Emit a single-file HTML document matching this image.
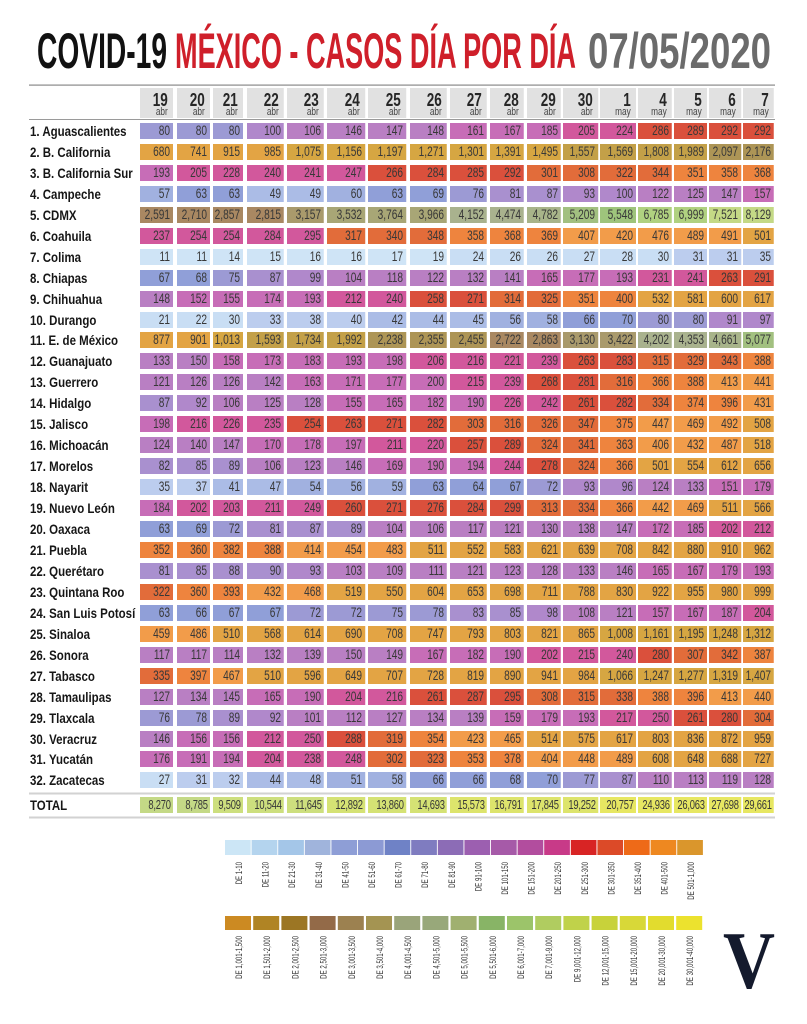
<!DOCTYPE html>
<html><head><meta charset="utf-8">
<style>
*{margin:0;padding:0}
body{width:807px;height:1024px;position:relative;overflow:hidden;background:#fff;font-family:"Liberation Sans",sans-serif}
svg.ov{position:absolute;left:0;top:0}
.r{position:absolute;left:0;width:807px;height:16px}
.r span{position:absolute;left:30px;top:0;font-weight:bold;font-size:14px;line-height:16px;color:#161616;transform:scaleX(.82);transform-origin:0 0;white-space:nowrap}
.r b{position:absolute;top:0;height:16px;font-weight:normal;font-size:13.5px;line-height:16px;color:#383838;text-align:right;padding-right:4px;box-sizing:border-box;transform:scaleX(.75);transform-origin:0 0;white-space:nowrap}
.r b:nth-of-type(1){left:140px;width:44px}
.r b:nth-of-type(2){left:177px;width:44px}
.r b:nth-of-type(3){left:213px;width:40px}
.r b:nth-of-type(4){left:247px;width:49.33px}
.r b:nth-of-type(5){left:287px;width:49.33px}
.r b:nth-of-type(6){left:327px;width:50.67px}
.r b:nth-of-type(7){left:368px;width:50.67px}
.r b:nth-of-type(8){left:410px;width:49.33px}
.r b:nth-of-type(9){left:450px;width:49.33px}
.r b:nth-of-type(10){left:490px;width:45.33px}
.r b:nth-of-type(11){left:527px;width:45.33px}
.r b:nth-of-type(12){left:563px;width:46.67px}
.r b:nth-of-type(13){left:600px;width:48px}
.r b:nth-of-type(14){left:638px;width:45.33px}
.r b:nth-of-type(15){left:674px;width:44px}
.r b:nth-of-type(16){left:709px;width:42.67px}
.r b:nth-of-type(17){left:743px;width:41.33px}
.hd b{height:30px;background:#e1e1e1;padding-right:7px}
.hd em{display:block;font-style:normal;font-weight:bold;font-size:18px;line-height:18px;margin-top:3px;color:#262626}
.hd small{display:block;font-size:11px;line-height:11px;margin-top:-2px;color:#444}
.t b{font-size:12.5px;letter-spacing:-0.3px;padding-right:3px}
.b{background:#cfe4f6}.c{background:#c9def4}.d{background:#bccdee}.e{background:#abbce6}
.f{background:#a1b1e0}.g{background:#909fd8}.h{background:#9c9ad4}.i{background:#a990cf}
.j{background:#b088cb}.k{background:#b97fc3}.l{background:#c76db7}.m{background:#d2589c}
.n{background:#da503c}.o{background:#e26c3a}.p{background:#ee843e}.q{background:#f29c4a}
.r b.r{background:#e3a444}.s{background:#d6a642}.t b.t,.s{background:#d6a642}.tt{background:#c3a048}
.u{background:#ad9556}.v{background:#a98862}.w{background:#a99a6c}.x{background:#a8a676}
.y{background:#a9b28e}.z{background:#a8b48a}.A{background:#a2c080}.B{background:#9ec47c}
.C{background:#b0d180}.D{background:#c4d986}.E{background:#cddf7e}.F{background:#d5e274}
.G{background:#dde46c}.H{background:#e7e762}
</style></head><body>
<svg class="ov" width="807" height="1024" viewBox="0 0 807 1024" xmlns="http://www.w3.org/2000/svg">
<g font-family="Liberation Sans, sans-serif" font-weight="bold" font-size="50">
<text x="37" y="68" textLength="130" lengthAdjust="spacingAndGlyphs" fill="#111">COVID-19</text>
<text x="175" y="68" textLength="401" lengthAdjust="spacingAndGlyphs" fill="#cf1f2a">MÉXICO - CASOS DÍA POR DÍA</text>
<text x="588" y="68" textLength="183" lengthAdjust="spacingAndGlyphs" fill="#6b6b6b">07/05/2020</text>
</g>
<rect x="29" y="84.5" width="746" height="1.2" fill="#8a8a8a"/>
<rect x="29" y="119" width="746" height="1" fill="#9a9a9a"/>
<rect x="29" y="792.5" width="746" height="2" fill="#d2d2d2"/>
<rect x="29" y="816.5" width="746" height="2" fill="#d2d2d2"/>
<g>
<rect x="225" y="840" width="25.7" height="15" fill="#cce6f6"/>
<rect x="251.6" y="840" width="25.7" height="15" fill="#b4d4ee"/>
<rect x="278.2" y="840" width="25.7" height="15" fill="#a4c6e8"/>
<rect x="304.8" y="840" width="25.7" height="15" fill="#a0b4dc"/>
<rect x="331.4" y="840" width="25.7" height="15" fill="#8e9ed6"/>
<rect x="358" y="840" width="25.7" height="15" fill="#8c9ad4"/>
<rect x="384.6" y="840" width="25.7" height="15" fill="#6f82c6"/>
<rect x="411.2" y="840" width="25.7" height="15" fill="#7f7cc0"/>
<rect x="437.8" y="840" width="25.7" height="15" fill="#8c6cb6"/>
<rect x="464.4" y="840" width="25.7" height="15" fill="#9c5fb0"/>
<rect x="491" y="840" width="25.7" height="15" fill="#a65aa8"/>
<rect x="517.6" y="840" width="25.7" height="15" fill="#b24d9e"/>
<rect x="544.2" y="840" width="25.7" height="15" fill="#c83a88"/>
<rect x="570.8" y="840" width="25.7" height="15" fill="#d82424"/>
<rect x="597.4" y="840" width="25.7" height="15" fill="#dc4a28"/>
<rect x="624" y="840" width="25.7" height="15" fill="#ee6a18"/>
<rect x="650.6" y="840" width="25.7" height="15" fill="#ee8820"/>
<rect x="677.2" y="840" width="25.7" height="15" fill="#da962c"/>
</g>
<g font-family="Liberation Sans, sans-serif" font-size="9" fill="#333" text-anchor="end">
<text transform="translate(242,862) rotate(-90) scale(.68,1)">DE 1-10</text>
<text transform="translate(268.6,862) rotate(-90) scale(.68,1)">DE 11-20</text>
<text transform="translate(295.2,862) rotate(-90) scale(.68,1)">DE 21-30</text>
<text transform="translate(321.8,862) rotate(-90) scale(.68,1)">DE 31-40</text>
<text transform="translate(348.4,862) rotate(-90) scale(.68,1)">DE 41-50</text>
<text transform="translate(375,862) rotate(-90) scale(.68,1)">DE 51-60</text>
<text transform="translate(401.6,862) rotate(-90) scale(.68,1)">DE 61-70</text>
<text transform="translate(428.2,862) rotate(-90) scale(.68,1)">DE 71-80</text>
<text transform="translate(454.8,862) rotate(-90) scale(.68,1)">DE 81-90</text>
<text transform="translate(481.4,862) rotate(-90) scale(.68,1)">DE 91-100</text>
<text transform="translate(508,862) rotate(-90) scale(.68,1)">DE 101-150</text>
<text transform="translate(534.6,862) rotate(-90) scale(.68,1)">DE 151-200</text>
<text transform="translate(561.2,862) rotate(-90) scale(.68,1)">DE 201-250</text>
<text transform="translate(587.8,862) rotate(-90) scale(.68,1)">DE 251-300</text>
<text transform="translate(614.4,862) rotate(-90) scale(.68,1)">DE 301-350</text>
<text transform="translate(641,862) rotate(-90) scale(.68,1)">DE 351-400</text>
<text transform="translate(667.6,862) rotate(-90) scale(.68,1)">DE 401-500</text>
<text transform="translate(694.2,862) rotate(-90) scale(.68,1)">DE 501-1,000</text>
</g>
<g>
<rect x="225" y="916" width="26" height="14" fill="#cc8a22"/>
<rect x="253.2" y="916" width="26" height="14" fill="#b08424"/>
<rect x="281.4" y="916" width="26" height="14" fill="#9c7624"/>
<rect x="309.6" y="916" width="26" height="14" fill="#936a48"/>
<rect x="337.8" y="916" width="26" height="14" fill="#9c8150"/>
<rect x="366" y="916" width="26" height="14" fill="#a49452"/>
<rect x="394.2" y="916" width="26" height="14" fill="#9aa47a"/>
<rect x="422.4" y="916" width="26" height="14" fill="#98a87a"/>
<rect x="450.6" y="916" width="26" height="14" fill="#a0b070"/>
<rect x="478.8" y="916" width="26" height="14" fill="#88b466"/>
<rect x="507" y="916" width="26" height="14" fill="#9cc46a"/>
<rect x="535.2" y="916" width="26" height="14" fill="#b0cc60"/>
<rect x="563.4" y="916" width="26" height="14" fill="#c0d24a"/>
<rect x="591.6" y="916" width="26" height="14" fill="#c8d23a"/>
<rect x="619.8" y="916" width="26" height="14" fill="#d8d838"/>
<rect x="648" y="916" width="26" height="14" fill="#e2dc2e"/>
<rect x="676.2" y="916" width="26" height="14" fill="#ece22e"/>
</g>
<g font-family="Liberation Sans, sans-serif" font-size="9" fill="#333" text-anchor="end">
<text transform="translate(242,936) rotate(-90) scale(.68,1)">DE 1,001-1,500</text>
<text transform="translate(270.2,936) rotate(-90) scale(.68,1)">DE 1,501-2,000</text>
<text transform="translate(298.4,936) rotate(-90) scale(.68,1)">DE 2,001-2,500</text>
<text transform="translate(326.6,936) rotate(-90) scale(.68,1)">DE 2,501-3,000</text>
<text transform="translate(354.8,936) rotate(-90) scale(.68,1)">DE 3,001-3,500</text>
<text transform="translate(383,936) rotate(-90) scale(.68,1)">DE 3,501-4,000</text>
<text transform="translate(411.2,936) rotate(-90) scale(.68,1)">DE 4,001-4,500</text>
<text transform="translate(439.4,936) rotate(-90) scale(.68,1)">DE 4,501-5,000</text>
<text transform="translate(467.6,936) rotate(-90) scale(.68,1)">DE 5,001-5,500</text>
<text transform="translate(495.8,936) rotate(-90) scale(.68,1)">DE 5,501-6,000</text>
<text transform="translate(524,936) rotate(-90) scale(.68,1)">DE 6,001-7,000</text>
<text transform="translate(552.2,936) rotate(-90) scale(.68,1)">DE 7,001-9,000</text>
<text transform="translate(580.4,936) rotate(-90) scale(.68,1)">DE 9,001-12,000</text>
<text transform="translate(608.6,936) rotate(-90) scale(.68,1)">DE 12,001-15,000</text>
<text transform="translate(636.8,936) rotate(-90) scale(.68,1)">DE 15,001-20,000</text>
<text transform="translate(665,936) rotate(-90) scale(.68,1)">DE 20,001-30,000</text>
<text transform="translate(693.2,936) rotate(-90) scale(.68,1)">DE 30,001-40,000</text>
</g>
<text x="723" y="988" font-family="Liberation Serif, serif" font-weight="bold" font-size="82" textLength="52" lengthAdjust="spacingAndGlyphs" fill="#141a2d">V</text>
</svg>

<div class="r hd" style="top:88px"><b><em>19</em><small>abr</small></b><b><em>20</em><small>abr</small></b><b><em>21</em><small>abr</small></b><b><em>22</em><small>abr</small></b><b><em>23</em><small>abr</small></b><b><em>24</em><small>abr</small></b><b><em>25</em><small>abr</small></b><b><em>26</em><small>abr</small></b><b><em>27</em><small>abr</small></b><b><em>28</em><small>abr</small></b><b><em>29</em><small>abr</small></b><b><em>30</em><small>abr</small></b><b><em>1</em><small>may</small></b><b><em>4</em><small>may</small></b><b><em>5</em><small>may</small></b><b><em>6</em><small>may</small></b><b><em>7</em><small>may</small></b></div>

<div class="r" style="top:123px"><span>1. Aguascalientes</span><b class="h">80</b><b class="h">80</b><b class="h">80</b><b class="j">100</b><b class="k">106</b><b class="k">146</b><b class="k">147</b><b class="k">148</b><b class="l">161</b><b class="l">167</b><b class="l">185</b><b class="m">205</b><b class="m">224</b><b class="n">286</b><b class="n">289</b><b class="n">292</b><b class="n">292</b></div>
<div class="r" style="top:144px"><span>2. B. California</span><b class="r">680</b><b class="r">741</b><b class="r">915</b><b class="r">985</b><b class="s">1,075</b><b class="s">1,156</b><b class="s">1,197</b><b class="s">1,271</b><b class="s">1,301</b><b class="s">1,391</b><b class="s">1,495</b><b class="tt">1,557</b><b class="tt">1,569</b><b class="tt">1,808</b><b class="tt">1,989</b><b class="u">2,097</b><b class="u">2,176</b></div>
<div class="r" style="top:165px"><span>3. B. California Sur</span><b class="l">193</b><b class="m">205</b><b class="m">228</b><b class="m">240</b><b class="m">241</b><b class="m">247</b><b class="n">266</b><b class="n">284</b><b class="n">285</b><b class="n">292</b><b class="o">301</b><b class="o">308</b><b class="o">322</b><b class="o">344</b><b class="p">351</b><b class="p">358</b><b class="p">368</b></div>
<div class="r" style="top:186px"><span>4. Campeche</span><b class="f">57</b><b class="g">63</b><b class="g">63</b><b class="e">49</b><b class="e">49</b><b class="f">60</b><b class="g">63</b><b class="g">69</b><b class="h">76</b><b class="i">81</b><b class="i">87</b><b class="j">93</b><b class="j">100</b><b class="k">122</b><b class="k">125</b><b class="k">147</b><b class="l">157</b></div>
<div class="r" style="top:207px"><span>5. CDMX</span><b class="v">2,591</b><b class="v">2,710</b><b class="v">2,857</b><b class="v">2,815</b><b class="w">3,157</b><b class="x">3,532</b><b class="x">3,764</b><b class="x">3,966</b><b class="y">4,152</b><b class="y">4,474</b><b class="z">4,782</b><b class="A">5,209</b><b class="B">5,548</b><b class="C">6,785</b><b class="C">6,999</b><b class="D">7,521</b><b class="D">8,129</b></div>
<div class="r" style="top:228px"><span>6. Coahuila</span><b class="m">237</b><b class="m">254</b><b class="m">254</b><b class="m">284</b><b class="m">295</b><b class="o">317</b><b class="o">340</b><b class="o">348</b><b class="p">358</b><b class="p">368</b><b class="p">369</b><b class="q">407</b><b class="q">420</b><b class="q">476</b><b class="q">489</b><b class="q">491</b><b class="r">501</b></div>
<div class="r" style="top:249px"><span>7. Colima</span><b class="b">11</b><b class="b">11</b><b class="b">14</b><b class="b">15</b><b class="b">16</b><b class="b">16</b><b class="b">17</b><b class="b">19</b><b class="c">24</b><b class="c">26</b><b class="c">26</b><b class="c">27</b><b class="c">28</b><b class="c">30</b><b class="d">31</b><b class="d">31</b><b class="d">35</b></div>
<div class="r" style="top:270px"><span>8. Chiapas</span><b class="g">67</b><b class="g">68</b><b class="h">75</b><b class="i">87</b><b class="j">99</b><b class="k">104</b><b class="k">118</b><b class="k">122</b><b class="k">132</b><b class="k">141</b><b class="l">165</b><b class="l">177</b><b class="l">193</b><b class="m">231</b><b class="m">241</b><b class="n">263</b><b class="n">291</b></div>
<div class="r" style="top:291px"><span>9. Chihuahua</span><b class="k">148</b><b class="l">152</b><b class="l">155</b><b class="l">174</b><b class="l">193</b><b class="m">212</b><b class="m">240</b><b class="n">258</b><b class="n">271</b><b class="o">314</b><b class="o">325</b><b class="p">351</b><b class="p">400</b><b class="r">532</b><b class="r">581</b><b class="r">600</b><b class="r">617</b></div>
<div class="r" style="top:312px"><span>10. Durango</span><b class="c">21</b><b class="c">22</b><b class="c">30</b><b class="d">33</b><b class="d">38</b><b class="d">40</b><b class="e">42</b><b class="e">44</b><b class="e">45</b><b class="f">56</b><b class="f">58</b><b class="g">66</b><b class="g">70</b><b class="h">80</b><b class="h">80</b><b class="j">91</b><b class="j">97</b></div>
<div class="r" style="top:332px"><span>11. E. de México</span><b class="r">877</b><b class="r">901</b><b class="s">1,013</b><b class="tt">1,593</b><b class="tt">1,734</b><b class="tt">1,992</b><b class="u">2,238</b><b class="u">2,355</b><b class="u">2,455</b><b class="v">2,722</b><b class="v">2,863</b><b class="w">3,130</b><b class="w">3,422</b><b class="y">4,202</b><b class="y">4,353</b><b class="z">4,661</b><b class="A">5,077</b></div>
<div class="r" style="top:353px"><span>12. Guanajuato</span><b class="k">133</b><b class="k">150</b><b class="l">158</b><b class="l">173</b><b class="l">183</b><b class="l">193</b><b class="l">198</b><b class="m">206</b><b class="m">216</b><b class="m">221</b><b class="m">239</b><b class="n">263</b><b class="n">283</b><b class="o">315</b><b class="o">329</b><b class="o">343</b><b class="p">388</b></div>
<div class="r" style="top:374px"><span>13. Guerrero</span><b class="k">121</b><b class="k">126</b><b class="k">126</b><b class="k">142</b><b class="l">163</b><b class="l">171</b><b class="l">177</b><b class="l">200</b><b class="m">215</b><b class="m">239</b><b class="n">268</b><b class="n">281</b><b class="o">316</b><b class="p">366</b><b class="p">388</b><b class="q">413</b><b class="q">441</b></div>
<div class="r" style="top:395px"><span>14. Hidalgo</span><b class="i">87</b><b class="j">92</b><b class="k">106</b><b class="k">125</b><b class="k">128</b><b class="l">155</b><b class="l">165</b><b class="l">182</b><b class="l">190</b><b class="m">226</b><b class="m">242</b><b class="n">261</b><b class="n">282</b><b class="o">334</b><b class="p">374</b><b class="p">396</b><b class="q">431</b></div>
<div class="r" style="top:416px"><span>15. Jalisco</span><b class="l">198</b><b class="m">216</b><b class="m">226</b><b class="m">235</b><b class="n">254</b><b class="n">263</b><b class="n">271</b><b class="n">282</b><b class="o">303</b><b class="o">316</b><b class="o">326</b><b class="o">347</b><b class="p">375</b><b class="q">447</b><b class="q">469</b><b class="q">492</b><b class="r">508</b></div>
<div class="r" style="top:437px"><span>16. Michoacán</span><b class="k">124</b><b class="k">140</b><b class="k">147</b><b class="l">170</b><b class="l">178</b><b class="l">197</b><b class="m">211</b><b class="m">220</b><b class="n">257</b><b class="n">289</b><b class="o">324</b><b class="o">341</b><b class="p">363</b><b class="q">406</b><b class="q">432</b><b class="q">487</b><b class="r">518</b></div>
<div class="r" style="top:458px"><span>17. Morelos</span><b class="i">82</b><b class="i">85</b><b class="i">89</b><b class="k">106</b><b class="k">123</b><b class="k">146</b><b class="l">169</b><b class="l">190</b><b class="l">194</b><b class="m">244</b><b class="n">278</b><b class="o">324</b><b class="p">366</b><b class="r">501</b><b class="r">554</b><b class="r">612</b><b class="r">656</b></div>
<div class="r" style="top:479px"><span>18. Nayarit</span><b class="d">35</b><b class="d">37</b><b class="e">41</b><b class="e">47</b><b class="f">54</b><b class="f">56</b><b class="f">59</b><b class="g">63</b><b class="g">64</b><b class="g">67</b><b class="h">72</b><b class="j">93</b><b class="j">96</b><b class="k">124</b><b class="k">133</b><b class="l">151</b><b class="l">179</b></div>
<div class="r" style="top:500px"><span>19. Nuevo León</span><b class="l">184</b><b class="m">202</b><b class="m">203</b><b class="m">211</b><b class="m">249</b><b class="n">260</b><b class="n">271</b><b class="n">276</b><b class="n">284</b><b class="n">299</b><b class="o">313</b><b class="o">334</b><b class="p">366</b><b class="q">442</b><b class="q">469</b><b class="r">511</b><b class="r">566</b></div>
<div class="r" style="top:521px"><span>20. Oaxaca</span><b class="g">63</b><b class="g">69</b><b class="h">72</b><b class="i">81</b><b class="i">87</b><b class="i">89</b><b class="k">104</b><b class="k">106</b><b class="k">117</b><b class="k">121</b><b class="k">130</b><b class="k">138</b><b class="k">147</b><b class="l">172</b><b class="l">185</b><b class="m">202</b><b class="m">212</b></div>
<div class="r" style="top:542px"><span>21. Puebla</span><b class="p">352</b><b class="p">360</b><b class="p">382</b><b class="p">388</b><b class="q">414</b><b class="q">454</b><b class="q">483</b><b class="r">511</b><b class="r">552</b><b class="r">583</b><b class="r">621</b><b class="r">639</b><b class="r">708</b><b class="r">842</b><b class="r">880</b><b class="r">910</b><b class="r">962</b></div>
<div class="r" style="top:563px"><span>22. Querétaro</span><b class="i">81</b><b class="i">85</b><b class="i">88</b><b class="i">90</b><b class="j">93</b><b class="k">103</b><b class="k">109</b><b class="k">111</b><b class="k">121</b><b class="k">123</b><b class="k">128</b><b class="k">133</b><b class="k">146</b><b class="l">165</b><b class="l">167</b><b class="l">179</b><b class="l">193</b></div>
<div class="r" style="top:584px"><span>23. Quintana Roo</span><b class="o">322</b><b class="p">360</b><b class="p">393</b><b class="q">432</b><b class="q">468</b><b class="r">519</b><b class="r">550</b><b class="r">604</b><b class="r">653</b><b class="r">698</b><b class="r">711</b><b class="r">788</b><b class="r">830</b><b class="r">922</b><b class="r">955</b><b class="r">980</b><b class="r">999</b></div>
<div class="r" style="top:605px"><span>24. San Luis Potosí</span><b class="g">63</b><b class="g">66</b><b class="g">67</b><b class="g">67</b><b class="h">72</b><b class="h">72</b><b class="h">75</b><b class="h">78</b><b class="i">83</b><b class="i">85</b><b class="j">98</b><b class="k">108</b><b class="k">121</b><b class="l">157</b><b class="l">167</b><b class="l">187</b><b class="m">204</b></div>
<div class="r" style="top:626px"><span>25. Sinaloa</span><b class="q">459</b><b class="q">486</b><b class="r">510</b><b class="r">568</b><b class="r">614</b><b class="r">690</b><b class="r">708</b><b class="r">747</b><b class="r">793</b><b class="r">803</b><b class="r">821</b><b class="r">865</b><b class="s">1,008</b><b class="s">1,161</b><b class="s">1,195</b><b class="s">1,248</b><b class="s">1,312</b></div>
<div class="r" style="top:647px"><span>26. Sonora</span><b class="k">117</b><b class="k">117</b><b class="k">114</b><b class="k">132</b><b class="k">139</b><b class="k">150</b><b class="k">149</b><b class="l">167</b><b class="l">182</b><b class="l">190</b><b class="m">202</b><b class="m">215</b><b class="m">240</b><b class="n">280</b><b class="o">307</b><b class="o">342</b><b class="p">387</b></div>
<div class="r" style="top:668px"><span>27. Tabasco</span><b class="o">335</b><b class="p">397</b><b class="q">467</b><b class="r">510</b><b class="r">596</b><b class="r">649</b><b class="r">707</b><b class="r">728</b><b class="r">819</b><b class="r">890</b><b class="r">941</b><b class="r">984</b><b class="s">1,066</b><b class="s">1,247</b><b class="s">1,277</b><b class="s">1,319</b><b class="s">1,407</b></div>
<div class="r" style="top:689px"><span>28. Tamaulipas</span><b class="k">127</b><b class="k">134</b><b class="k">145</b><b class="l">165</b><b class="l">190</b><b class="m">204</b><b class="m">216</b><b class="n">261</b><b class="n">287</b><b class="n">295</b><b class="o">308</b><b class="o">315</b><b class="o">338</b><b class="p">388</b><b class="p">396</b><b class="q">413</b><b class="q">440</b></div>
<div class="r" style="top:710px"><span>29. Tlaxcala</span><b class="h">76</b><b class="h">78</b><b class="i">89</b><b class="j">92</b><b class="k">101</b><b class="k">112</b><b class="k">127</b><b class="k">134</b><b class="k">139</b><b class="l">159</b><b class="l">179</b><b class="l">193</b><b class="m">217</b><b class="m">250</b><b class="n">261</b><b class="n">280</b><b class="o">304</b></div>
<div class="r" style="top:731px"><span>30. Veracruz</span><b class="k">146</b><b class="l">156</b><b class="l">156</b><b class="m">212</b><b class="m">250</b><b class="n">288</b><b class="o">319</b><b class="p">354</b><b class="q">423</b><b class="q">465</b><b class="r">514</b><b class="r">575</b><b class="r">617</b><b class="r">803</b><b class="r">836</b><b class="r">872</b><b class="r">959</b></div>
<div class="r" style="top:751px"><span>31. Yucatán</span><b class="l">176</b><b class="l">191</b><b class="l">194</b><b class="m">204</b><b class="m">238</b><b class="m">248</b><b class="o">302</b><b class="o">323</b><b class="p">353</b><b class="p">378</b><b class="q">404</b><b class="q">448</b><b class="q">489</b><b class="r">608</b><b class="r">648</b><b class="r">688</b><b class="r">727</b></div>
<div class="r" style="top:772px"><span>32. Zacatecas</span><b class="c">27</b><b class="d">31</b><b class="d">32</b><b class="e">44</b><b class="e">48</b><b class="f">51</b><b class="f">58</b><b class="g">66</b><b class="g">66</b><b class="g">68</b><b class="g">70</b><b class="h">77</b><b class="i">87</b><b class="k">110</b><b class="k">113</b><b class="k">119</b><b class="k">128</b></div>
<div class="r t" style="top:797px"><span>TOTAL</span><b class="D">8,270</b><b class="D">8,785</b><b class="E">9,509</b><b class="E">10,544</b><b class="E">11,645</b><b class="F">12,892</b><b class="F">13,860</b><b class="F">14,693</b><b class="G">15,573</b><b class="G">16,791</b><b class="G">17,845</b><b class="G">19,252</b><b class="H">20,757</b><b class="H">24,936</b><b class="H">26,063</b><b class="H">27,698</b><b class="H">29,661</b></div>
</body></html>
